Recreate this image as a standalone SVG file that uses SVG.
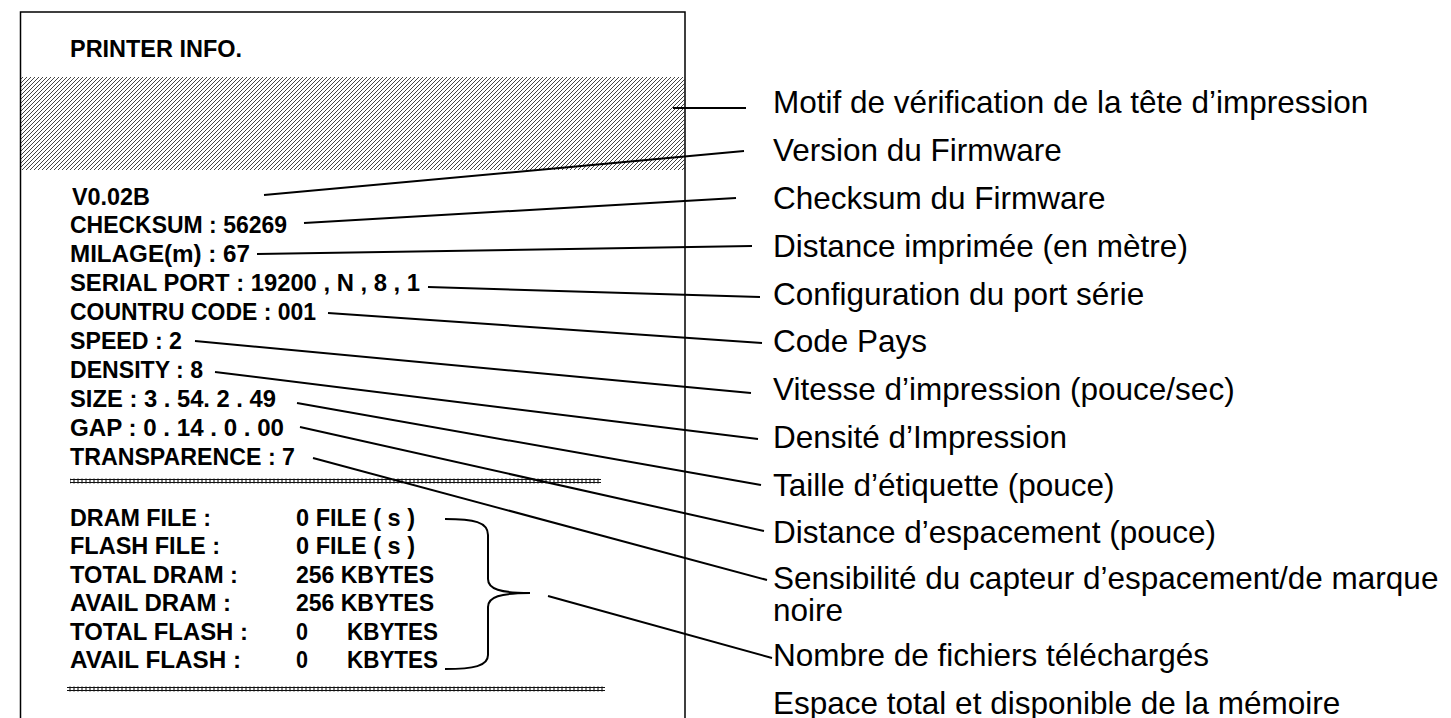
<svg xmlns="http://www.w3.org/2000/svg" width="1451" height="718" viewBox="0 0 1451 718">
<defs>
  <pattern id="hatch" patternUnits="userSpaceOnUse" width="4" height="4">
    <path d="M-1,1 L1,-1 M0,4 L4,0 M3,5 L5,3" stroke="#222" stroke-width="0.85"/>
  </pattern>
  <pattern id="sep" patternUnits="userSpaceOnUse" x="0" y="478" width="4" height="6">
    <path d="M0,1.5 H4 M0,4.5 H4 M2,0.5 V5.5" stroke="#111" stroke-width="1.1"/>
  </pattern>
  <pattern id="sep2" patternUnits="userSpaceOnUse" x="0" y="686" width="4" height="6">
    <path d="M0,1.5 H4 M0,4.5 H4 M2,0.5 V5.5" stroke="#111" stroke-width="1.1"/>
  </pattern>
</defs>
<style>
  .pr { font-family: "Liberation Sans Narrow", "Liberation Sans", Arial, sans-serif; font-weight: bold; font-size: 24px; fill: #000; }
  .lb { font-family: "Liberation Sans", Arial, sans-serif; font-size: 31.5px; fill: #000; }
  .ln { stroke: #000; stroke-width: 2; fill: none; }
  .fr { stroke: #000; stroke-width: 1.5; fill: none; }
</style>
<rect x="0" y="0" width="1451" height="718" fill="#fff"/>

<g id="printout">
  <path class="fr" d="M20.5,718 V12 H685 V718"/>
  <rect x="21" y="77" width="664" height="93" fill="url(#hatch)"/>
  <text class="pr" x="70" y="57" font-size="22" textLength="172" lengthAdjust="spacingAndGlyphs">PRINTER INFO.</text>
  <text class="pr" x="72" y="205" textLength="78" lengthAdjust="spacingAndGlyphs">V0.02B</text>
  <text class="pr" x="70" y="233" textLength="217" lengthAdjust="spacingAndGlyphs">CHECKSUM : 56269</text>
  <text class="pr" x="70" y="262" textLength="180" lengthAdjust="spacingAndGlyphs">MILAGE(m) :  67</text>
  <text class="pr" x="70" y="291" textLength="350" lengthAdjust="spacingAndGlyphs">SERIAL PORT : 19200 , N , 8 , 1</text>
  <text class="pr" x="70" y="320" textLength="246" lengthAdjust="spacingAndGlyphs">COUNTRU CODE : 001</text>
  <text class="pr" x="70" y="349" textLength="112" lengthAdjust="spacingAndGlyphs">SPEED : 2</text>
  <text class="pr" x="70" y="378" textLength="133" lengthAdjust="spacingAndGlyphs">DENSITY : 8</text>
  <text class="pr" x="70" y="407" textLength="206" lengthAdjust="spacingAndGlyphs">SIZE : 3 . 54. 2 . 49</text>
  <text class="pr" x="70" y="436" textLength="214" lengthAdjust="spacingAndGlyphs">GAP : 0 . 14 . 0 . 00</text>
  <text class="pr" x="70" y="465" textLength="225" lengthAdjust="spacingAndGlyphs">TRANSPARENCE : 7</text>
  <rect x="70" y="478" width="531" height="6" fill="url(#sep)"/>
  <text class="pr" x="70" y="526" textLength="141" lengthAdjust="spacingAndGlyphs">DRAM FILE :</text>
  <text class="pr" x="70" y="554" textLength="150" lengthAdjust="spacingAndGlyphs">FLASH FILE :</text>
  <text class="pr" x="70" y="583" textLength="168" lengthAdjust="spacingAndGlyphs">TOTAL DRAM :</text>
  <text class="pr" x="70" y="611" textLength="161" lengthAdjust="spacingAndGlyphs">AVAIL DRAM :</text>
  <text class="pr" x="70" y="640" textLength="178" lengthAdjust="spacingAndGlyphs">TOTAL FLASH :</text>
  <text class="pr" x="70" y="668" textLength="171" lengthAdjust="spacingAndGlyphs">AVAIL FLASH :</text>
  <text class="pr" x="296" y="526" textLength="119" lengthAdjust="spacingAndGlyphs">0 FILE ( s )</text>
  <text class="pr" x="296" y="554" textLength="119" lengthAdjust="spacingAndGlyphs">0 FILE ( s )</text>
  <text class="pr" x="296" y="583" textLength="138" lengthAdjust="spacingAndGlyphs">256 KBYTES</text>
  <text class="pr" x="296" y="611" textLength="138" lengthAdjust="spacingAndGlyphs">256 KBYTES</text>
  <text class="pr" x="296" y="640" textLength="12" lengthAdjust="spacingAndGlyphs">0</text>
  <text class="pr" x="347" y="640" textLength="91" lengthAdjust="spacingAndGlyphs">KBYTES</text>
  <text class="pr" x="296" y="668" textLength="12" lengthAdjust="spacingAndGlyphs">0</text>
  <text class="pr" x="347" y="668" textLength="91" lengthAdjust="spacingAndGlyphs">KBYTES</text>
  <rect x="67" y="686" width="538" height="6" fill="url(#sep2)"/>
</g>

<g id="brace">
  <path class="ln" d="M445,519 C474,519 488,522 488,535 L488,579 C488,589 500,593 530,593 C500,593 488,597 488,607 L488,655 C488,666 474,669 445,669"/>
</g>

<g id="labels">
  <text id="l1" class="lb" x="773" y="113">Motif de vérification de la tête d’impression</text>
  <text id="l2" class="lb" x="773" y="161">Version du Firmware</text>
  <text id="l3" class="lb" x="773" y="209">Checksum du Firmware</text>
  <text id="l4" class="lb" x="773" y="257">Distance imprimée (en mètre)</text>
  <text id="l5" class="lb" x="773" y="305">Configuration du port série</text>
  <text id="l6" class="lb" x="773" y="352">Code Pays</text>
  <text id="l7" class="lb" x="773" y="400">Vitesse d’impression (pouce/sec)</text>
  <text id="l8" class="lb" x="773" y="448">Densité d’Impression</text>
  <text id="l9" class="lb" x="773" y="496">Taille d’étiquette (pouce)</text>
  <text id="l10" class="lb" x="773" y="543">Distance d’espacement (pouce)</text>
  <text id="l11" class="lb" x="773" y="589">Sensibilité du capteur d’espacement/de marque</text>
  <text id="l11b" class="lb" x="773" y="621">noire</text>
  <text id="l12" class="lb" x="773" y="666">Nombre de fichiers téléchargés</text>
  <text id="l13" class="lb" x="773" y="714">Espace total et disponible de la mémoire</text>
</g>

<g id="connectors">
  <line class="ln" x1="673" y1="108" x2="746" y2="108"/>
  <line class="ln" x1="264" y1="195" x2="744" y2="151"/>
  <line class="ln" x1="304" y1="223" x2="736" y2="198"/>
  <line class="ln" x1="257" y1="254" x2="752" y2="246"/>
  <line class="ln" x1="428" y1="287" x2="760" y2="297"/>
  <line class="ln" x1="328" y1="313" x2="762" y2="343"/>
  <line class="ln" x1="195" y1="341" x2="751" y2="393"/>
  <line class="ln" x1="215" y1="372" x2="758" y2="439"/>
  <line class="ln" x1="297" y1="403" x2="761" y2="485"/>
  <line class="ln" x1="300" y1="427" x2="764" y2="531"/>
  <line class="ln" x1="313" y1="458" x2="767" y2="580"/>
  <line class="ln" x1="548" y1="596" x2="772" y2="658"/>
</g>
</svg>
